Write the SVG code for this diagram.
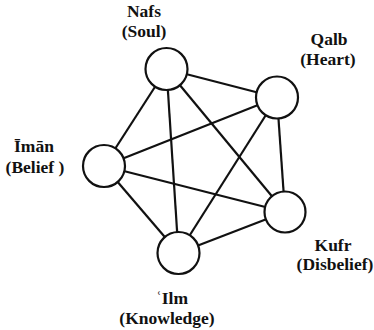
<svg xmlns="http://www.w3.org/2000/svg" width="374" height="330" viewBox="0 0 374 330">
  <style>
    .edge { stroke: #111; stroke-width: 2.2; fill: none; }
    .node { fill: #fff; stroke: #111; stroke-width: 2.2; }
    .label { font-family: "Liberation Serif", "Times New Roman", serif; font-weight: bold; font-size: 17.5px; fill: #111; text-anchor: middle; }
  </style>
  <rect width="374" height="330" fill="#fff"/>
  <!-- complete graph: every node linked to every other -->
  <g id="connectors">
    <line class="edge" x1="166.5" y1="69" x2="277" y2="97.5"/>
    <line class="edge" x1="166.5" y1="69" x2="104" y2="166"/>
    <line class="edge" x1="166.5" y1="69" x2="285" y2="212"/>
    <line class="edge" x1="166.5" y1="69" x2="178.5" y2="253"/>
    <line class="edge" x1="277" y1="97.5" x2="104" y2="166"/>
    <line class="edge" x1="277" y1="97.5" x2="285" y2="212"/>
    <line class="edge" x1="277" y1="97.5" x2="178.5" y2="253"/>
    <line class="edge" x1="104" y1="166" x2="285" y2="212"/>
    <line class="edge" x1="104" y1="166" x2="178.5" y2="253"/>
    <line class="edge" x1="285" y1="212" x2="178.5" y2="253"/>
  </g>
  <g id="nafs">
    <circle class="node" cx="166.5" cy="69" r="21"/>
    <text class="label" x="144" y="17">Nafs</text>
    <text class="label" x="144" y="37">(Soul)</text>
  </g>
  <g id="qalb">
    <circle class="node" cx="277" cy="97.5" r="21"/>
    <text class="label" x="329" y="45">Qalb</text>
    <text class="label" x="328" y="65">(Heart)</text>
  </g>
  <g id="iman">
    <circle class="node" cx="104" cy="166" r="21"/>
    <text class="label" x="34" y="152">Īmān</text>
    <text class="label" x="35" y="173">(Belief )</text>
  </g>
  <g id="kufr">
    <circle class="node" cx="285" cy="212" r="20.5"/>
    <text class="label" x="333" y="251">Kufr</text>
    <text class="label" x="335" y="270">(Disbelief)</text>
  </g>
  <g id="ilm">
    <circle class="node" cx="178.5" cy="253" r="21"/>
    <text class="label" x="172" y="304">ʿIlm</text>
    <text class="label" x="167" y="324">(Knowledge)</text>
  </g>
</svg>
